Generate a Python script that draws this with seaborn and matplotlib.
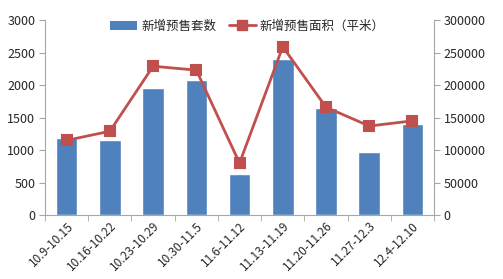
import matplotlib
matplotlib.use("Agg")
import matplotlib.pyplot as plt
import seaborn as sns
import pandas as pd
from matplotlib.patches import Patch
from matplotlib.lines import Line2D

weeks = ["10.9-10.15", "10.16-10.22", "10.23-10.29", "10.30-11.5", "11.6-11.12",
         "11.13-11.19", "11.20-11.26", "11.27-12.3", "12.4-12.10"]
units = [1180, 1160, 1960, 2080, 630, 2400, 1650, 970, 1400]
area = [115000, 129000, 229000, 223000, 80000, 259000, 166000, 137000, 145000]
bar_label = "新增预售套数"
line_label = "新增预售面积（平米）"

sns.set_style("white")
plt.rcParams['font.family'] = ['Noto Sans CJK SC', 'DejaVu Sans']

bar_color = "#4F81BD"
line_color = "#C0504D"
spine_color = "#A6A6A6"

df = pd.DataFrame({"week": weeks, "units": units, "area": area})

fig = plt.figure(figsize=(5.03, 2.79), dpi=100)
ax = fig.add_axes([0.0895, 0.229, 0.7735, 0.699])
sns.barplot(data=df, x="week", y="units", color=bar_color, saturation=1,
            width=0.5, ax=ax)
ax2 = ax.twinx()
sns.pointplot(data=df, x="week", y="area", color=line_color, markers="s",
              ax=ax2, markersize=7, linewidth=2)

ax.set_ylim(0, 3000)
ax.set_yticks(range(0, 3001, 500))
ax2.set_ylim(0, 300000)
ax2.set_yticks(range(0, 300001, 50000))
ax.set_xlim(-0.5, len(weeks) - 0.5)
ax2.set_xlim(-0.5, len(weeks) - 0.5)

for a in (ax, ax2):
    a.set_xlabel("")
    a.set_ylabel("")
    a.spines["top"].set_visible(False)
    for s in ("left", "right", "bottom"):
        a.spines[s].set_color(spine_color)
        a.spines[s].set_linewidth(0.8)
ax.spines["right"].set_visible(False)
ax2.spines["left"].set_visible(False)
ax2.spines["bottom"].set_visible(False)

ax.tick_params(axis="y", which="both", left=True, length=4, color=spine_color,
               labelsize=9, pad=3)
ax2.tick_params(axis="y", which="both", right=True, length=4, color=spine_color,
                labelsize=9, pad=3)

ax.set_xticks(range(len(weeks)))
ax.set_xticklabels(weeks, rotation=45, ha="right", rotation_mode="anchor",
                   fontsize=8.5)
ax.tick_params(axis="x", which="major", length=0, pad=3)
ax.set_xticks([i - 0.5 for i in range(len(weeks) + 1)], minor=True)
ax.tick_params(axis="x", which="minor", bottom=True, length=4, color=spine_color)

handles = [Patch(facecolor=bar_color, edgecolor="none"),
           Line2D([0], [0], color=line_color, marker="s", markersize=7, linewidth=2)]
ax.legend(handles, [bar_label, line_label], loc="upper center",
          bbox_to_anchor=(0.52, 1.06), ncol=2, frameon=False, fontsize=9,
          handlelength=2.2, columnspacing=1.0, handletextpad=0.3)

fig.savefig("out.png", dpi=100)
